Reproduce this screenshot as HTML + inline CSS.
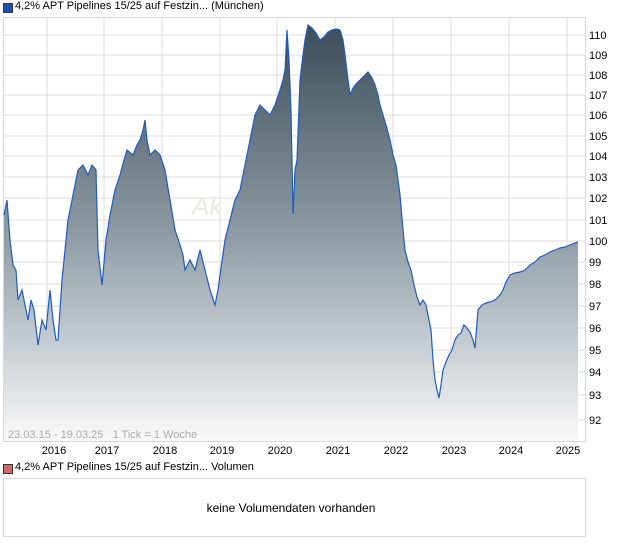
<!DOCTYPE html>
<html><head><meta charset="utf-8"><style>
body{margin:0;width:620px;height:546px;background:#fff;font-family:"Liberation Sans",sans-serif;overflow:hidden;position:relative}
.t{position:absolute;font-size:11px;color:#000}
</style></head><body>
<div style="position:absolute;left:3px;top:3px;width:8px;height:8px;background:#1f4fa8;border:1px solid #333"></div>
<div class="t" style="left:15px;top:0px;font-size:11px">4,2% APT Pipelines 15/25 auf Festzin... (München)</div>
<svg width="620" height="546" style="position:absolute;left:0;top:0">
<defs><linearGradient id="g" x1="0" y1="0" x2="0" y2="1">
<stop offset="0" stop-color="#3b4d59"/><stop offset="0.5" stop-color="#8e9ba4"/><stop offset="1" stop-color="#f8f9fa"/></linearGradient></defs>
<rect x="3.5" y="17.5" width="582" height="424" fill="#fff" stroke="#d8d8d8"/>
<g stroke="#dcdcdc" stroke-width="1">
<line x1="47" y1="18" x2="47" y2="441"/><line x1="104" y1="18" x2="104" y2="441"/><line x1="162" y1="18" x2="162" y2="441"/><line x1="220" y1="18" x2="220" y2="441"/><line x1="277" y1="18" x2="277" y2="441"/><line x1="335" y1="18" x2="335" y2="441"/><line x1="393" y1="18" x2="393" y2="441"/><line x1="451" y1="18" x2="451" y2="441"/><line x1="509" y1="18" x2="509" y2="441"/><line x1="567" y1="18" x2="567" y2="441"/>
<line x1="4" y1="35" x2="585" y2="35"/><line x1="4" y1="55" x2="585" y2="55"/><line x1="4" y1="75" x2="585" y2="75"/><line x1="4" y1="95" x2="585" y2="95"/><line x1="4" y1="115" x2="585" y2="115"/><line x1="4" y1="136" x2="585" y2="136"/><line x1="4" y1="156" x2="585" y2="156"/><line x1="4" y1="177" x2="585" y2="177"/><line x1="4" y1="198" x2="585" y2="198"/><line x1="4" y1="220" x2="585" y2="220"/><line x1="4" y1="241" x2="585" y2="241"/><line x1="4" y1="262" x2="585" y2="262"/><line x1="4" y1="284" x2="585" y2="284"/><line x1="4" y1="306" x2="585" y2="306"/><line x1="4" y1="328" x2="585" y2="328"/><line x1="4" y1="350" x2="585" y2="350"/><line x1="4" y1="372" x2="585" y2="372"/><line x1="4" y1="395" x2="585" y2="395"/><line x1="4" y1="420" x2="585" y2="420"/>
</g>
<text x="192" y="215" font-size="26" font-style="italic" fill="#ece8e2" font-family="Liberation Sans">Ak</text>
<polygon fill="url(#g)" points="4,441 4,215 7,200 10,240 13,265 16,270 18,300 22,290 25,305 28,320 31,300 34,310 38,345 42,320 46,330 50,290 53,320 56,340 58,340 62,280 66,240 68,220 72,200 76,180 78,170 83,165 88,175 92,165 96,170 98,250 102,285 106,240 110,215 115,190 120,175 124,160 127,150 133,155 137,145 140,140 143,130 145,120 147,140 150,155 155,150 160,155 165,170 170,200 175,230 180,245 183,255 185,270 190,260 195,270 200,250 205,270 210,290 215,305 218,290 220,275 225,240 230,220 235,200 240,190 245,165 250,140 255,115 260,105 265,110 270,115 275,105 280,90 283,80 285,70 287,30 289,60 291,110 293,214 295,170 297,160 300,80 303,55 305,40 308,25 312,28 316,33 320,40 324,37 328,32 332,30 336,29 340,30 343,40 345,55 348,80 350,95 353,88 356,84 360,80 364,76 368,72 372,78 375,85 378,95 380,105 383,115 386,125 390,140 393,155 396,165 400,195 403,230 405,250 408,262 411,270 414,285 417,297 420,305 423,300 426,305 429,320 431,330 433,360 435,380 437,390 439,398 441,385 443,370 446,362 449,355 452,350 455,340 458,335 461,333 464,325 467,328 470,332 473,340 475,348 478,310 482,305 486,303 490,302 495,300 500,295 503,290 506,282 510,275 515,273 520,272 525,270 530,265 535,262 540,257 545,255 550,252 555,250 560,248 565,247 570,245 575,243 578,242 578,441"/>
<polyline fill="none" stroke="#1f5bc4" stroke-width="1.2" points="4,215 7,200 10,240 13,265 16,270 18,300 22,290 25,305 28,320 31,300 34,310 38,345 42,320 46,330 50,290 53,320 56,340 58,340 62,280 66,240 68,220 72,200 76,180 78,170 83,165 88,175 92,165 96,170 98,250 102,285 106,240 110,215 115,190 120,175 124,160 127,150 133,155 137,145 140,140 143,130 145,120 147,140 150,155 155,150 160,155 165,170 170,200 175,230 180,245 183,255 185,270 190,260 195,270 200,250 205,270 210,290 215,305 218,290 220,275 225,240 230,220 235,200 240,190 245,165 250,140 255,115 260,105 265,110 270,115 275,105 280,90 283,80 285,70 287,30 289,60 291,110 293,214 295,170 297,160 300,80 303,55 305,40 308,25 312,28 316,33 320,40 324,37 328,32 332,30 336,29 340,30 343,40 345,55 348,80 350,95 353,88 356,84 360,80 364,76 368,72 372,78 375,85 378,95 380,105 383,115 386,125 390,140 393,155 396,165 400,195 403,230 405,250 408,262 411,270 414,285 417,297 420,305 423,300 426,305 429,320 431,330 433,360 435,380 437,390 439,398 441,385 443,370 446,362 449,355 452,350 455,340 458,335 461,333 464,325 467,328 470,332 473,340 475,348 478,310 482,305 486,303 490,302 495,300 500,295 503,290 506,282 510,275 515,273 520,272 525,270 530,265 535,262 540,257 545,255 550,252 555,250 560,248 565,247 570,245 575,243 578,242"/>
<g font-size="11" fill="#000" font-family="Liberation Sans">
<text x="589" y="39">110</text><text x="589" y="59">109</text><text x="589" y="79">108</text><text x="589" y="99">107</text><text x="589" y="119">106</text><text x="589" y="140">105</text><text x="589" y="160">104</text><text x="589" y="181">103</text><text x="589" y="202">102</text><text x="589" y="224">101</text><text x="589" y="245">100</text><text x="589" y="266">99</text><text x="589" y="288">98</text><text x="589" y="310">97</text><text x="589" y="332">96</text><text x="589" y="354">95</text><text x="589" y="376">94</text><text x="589" y="399">93</text><text x="589" y="424">92</text>
</g>
<g font-size="11" fill="#000" font-family="Liberation Sans" text-anchor="middle">
<text x="54" y="454">2016</text><text x="107" y="454">2017</text><text x="165" y="454">2018</text><text x="222" y="454">2019</text><text x="280" y="454">2020</text><text x="338" y="454">2021</text><text x="396" y="454">2022</text><text x="454" y="454">2023</text><text x="511" y="454">2024</text><text x="568" y="454">2025</text>
</g>
<text x="8" y="438" font-size="11" fill="#aaa" font-family="Liberation Sans" xml:space="preserve" style="white-space:pre">23.03.15 - 19.03.25   1 Tick = 1 Woche</text>
<rect x="3.5" y="478.5" width="582" height="58" fill="#fff" stroke="#d8d8d8"/>
<text x="291" y="512" font-size="12" fill="#000" text-anchor="middle" font-family="Liberation Sans">keine Volumendaten vorhanden</text>
</svg>
<div style="position:absolute;left:3px;top:464px;width:8px;height:8px;background:#d06a6a;border:1px solid #333"></div>
<div class="t" style="left:15px;top:461px">4,2% APT Pipelines 15/25 auf Festzin... Volumen</div>
</body></html>
